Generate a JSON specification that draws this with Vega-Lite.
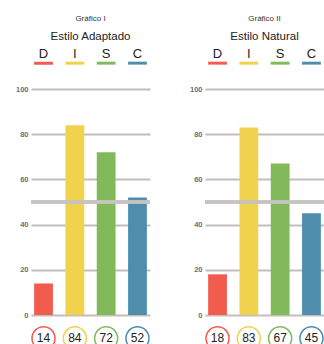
{
  "$schema": "https://vega.github.io/schema/vega-lite/v6.json",
  "padding": {"left": 0, "top": 14, "right": 0, "bottom": 0},
  "background": "white",
  "config": {
    "view": {"stroke": null},
    "font": "Liberation Sans",
    "title": {"fontSize": 8, "fontWeight": "normal", "color": "#333333", "subtitleFontSize": 11.5, "subtitleColor": "#222222", "subtitlePadding": 8, "offset": 5, "anchor": "middle", "frame": "group"}
  },
  "datasets": {
    "disc": [
      {"chart": "I", "k": "D", "v": 14},
      {"chart": "I", "k": "I", "v": 84},
      {"chart": "I", "k": "S", "v": 72},
      {"chart": "I", "k": "C", "v": 52},
      {"chart": "II", "k": "D", "v": 18},
      {"chart": "II", "k": "I", "v": 83},
      {"chart": "II", "k": "S", "v": 67},
      {"chart": "II", "k": "C", "v": 45}
    ]
  },
  "spacing": 22,
  "hconcat": [
    {
      "title": {"text": "Gráfico I", "subtitle": "Estilo Adaptado"},
      "width": 119,
      "height": 298,
      "data": {"name": "disc"},
      "transform": [{"filter": "datum.chart === 'I'"}],
      "layer": [
        {
          "mark": {"type": "bar"},
          "encoding": {
            "x": {"field": "k", "type": "nominal", "axis": null, "sort": ["D", "I", "S", "C"], "scale": {"domain": ["D", "I", "S", "C"], "paddingInner": 0.4, "paddingOuter": 0.1}},
            "y": {"field": "v", "type": "quantitative", "scale": {"domain": [-13.27, 118.6], "nice": false, "zero": false},
              "axis": {"values": [0, 10, 20, 30, 40, 50, 60, 70, 80, 90, 100], "labelExpr": "datum.value % 20 == 0 ? datum.label : ''", "title": null, "domain": false, "ticks": false, "grid": true, "gridColor": "#c3beb9", "gridWidth": 2, "labelFontSize": 7.5, "labelFontWeight": "bold", "labelColor": "#6b6e75", "labelPadding": 3, "minExtent": 31, "maxExtent": 31}},
            "y2": {"datum": 0},
            "color": {"field": "k", "type": "nominal", "legend": null, "scale": {"domain": ["D", "I", "S", "C"], "range": ["#f25c4f", "#f1d24e", "#82ba5b", "#4e8eac"]}}
          }
        },
        {
          "mark": {"type": "rule", "color": "#c6c3c0", "strokeWidth": 3},
          "encoding": {"y": {"datum": 50, "type": "quantitative"}}
        },
        {
          "mark": {"type": "text", "fontSize": 13, "color": "#222222", "baseline": "middle"},
          "encoding": {"x": {"field": "k", "type": "nominal"}, "y": {"datum": 115.5, "type": "quantitative"}, "text": {"field": "k"}}
        },
        {
          "mark": {"type": "bar"},
          "encoding": {
            "x": {"field": "k", "type": "nominal"},
            "y": {"datum": 110.8, "type": "quantitative"},
            "y2": {"datum": 112.1},
            "color": {"field": "k", "type": "nominal", "legend": null}
          }
        },
        {
          "mark": {"type": "point", "shape": "circle", "size": 530, "filled": false, "fill": "white", "fillOpacity": 1, "strokeWidth": 1.5, "opacity": 1},
          "encoding": {
            "x": {"field": "k", "type": "nominal"},
            "y": {"datum": -10.3, "type": "quantitative"},
            "stroke": {"field": "k", "type": "nominal", "legend": null, "scale": {"domain": ["D", "I", "S", "C"], "range": ["#f25c4f", "#f1d24e", "#82ba5b", "#4e8eac"]}}
          }
        },
        {
          "mark": {"type": "text", "fontSize": 12, "color": "#222222", "baseline": "middle"},
          "encoding": {"x": {"field": "k", "type": "nominal"}, "y": {"datum": -10.3, "type": "quantitative"}, "text": {"field": "v"}}
        }
      ]
    },
    {
      "title": {"text": "Gráfico II", "subtitle": "Estilo Natural"},
      "width": 119,
      "height": 298,
      "data": {"name": "disc"},
      "transform": [{"filter": "datum.chart === 'II'"}],
      "layer": [
        {
          "mark": {"type": "bar"},
          "encoding": {
            "x": {"field": "k", "type": "nominal", "axis": null, "sort": ["D", "I", "S", "C"], "scale": {"domain": ["D", "I", "S", "C"], "paddingInner": 0.4, "paddingOuter": 0.1}},
            "y": {"field": "v", "type": "quantitative", "scale": {"domain": [-13.27, 118.6], "nice": false, "zero": false},
              "axis": {"values": [0, 10, 20, 30, 40, 50, 60, 70, 80, 90, 100], "labelExpr": "datum.value % 20 == 0 ? datum.label : ''", "title": null, "domain": false, "ticks": false, "grid": true, "gridColor": "#c3beb9", "gridWidth": 2, "labelFontSize": 7.5, "labelFontWeight": "bold", "labelColor": "#6b6e75", "labelPadding": 3, "minExtent": 31, "maxExtent": 31}},
            "y2": {"datum": 0},
            "color": {"field": "k", "type": "nominal", "legend": null, "scale": {"domain": ["D", "I", "S", "C"], "range": ["#f25c4f", "#f1d24e", "#82ba5b", "#4e8eac"]}}
          }
        },
        {
          "mark": {"type": "rule", "color": "#c6c3c0", "strokeWidth": 3},
          "encoding": {"y": {"datum": 50, "type": "quantitative"}}
        },
        {
          "mark": {"type": "text", "fontSize": 13, "color": "#222222", "baseline": "middle"},
          "encoding": {"x": {"field": "k", "type": "nominal"}, "y": {"datum": 115.5, "type": "quantitative"}, "text": {"field": "k"}}
        },
        {
          "mark": {"type": "bar"},
          "encoding": {
            "x": {"field": "k", "type": "nominal"},
            "y": {"datum": 110.8, "type": "quantitative"},
            "y2": {"datum": 112.1},
            "color": {"field": "k", "type": "nominal", "legend": null}
          }
        },
        {
          "mark": {"type": "point", "shape": "circle", "size": 530, "filled": false, "fill": "white", "fillOpacity": 1, "strokeWidth": 1.5, "opacity": 1},
          "encoding": {
            "x": {"field": "k", "type": "nominal"},
            "y": {"datum": -10.3, "type": "quantitative"},
            "stroke": {"field": "k", "type": "nominal", "legend": null, "scale": {"domain": ["D", "I", "S", "C"], "range": ["#f25c4f", "#f1d24e", "#82ba5b", "#4e8eac"]}}
          }
        },
        {
          "mark": {"type": "text", "fontSize": 12, "color": "#222222", "baseline": "middle"},
          "encoding": {"x": {"field": "k", "type": "nominal"}, "y": {"datum": -10.3, "type": "quantitative"}, "text": {"field": "v"}}
        }
      ]
    }
  ]
}
